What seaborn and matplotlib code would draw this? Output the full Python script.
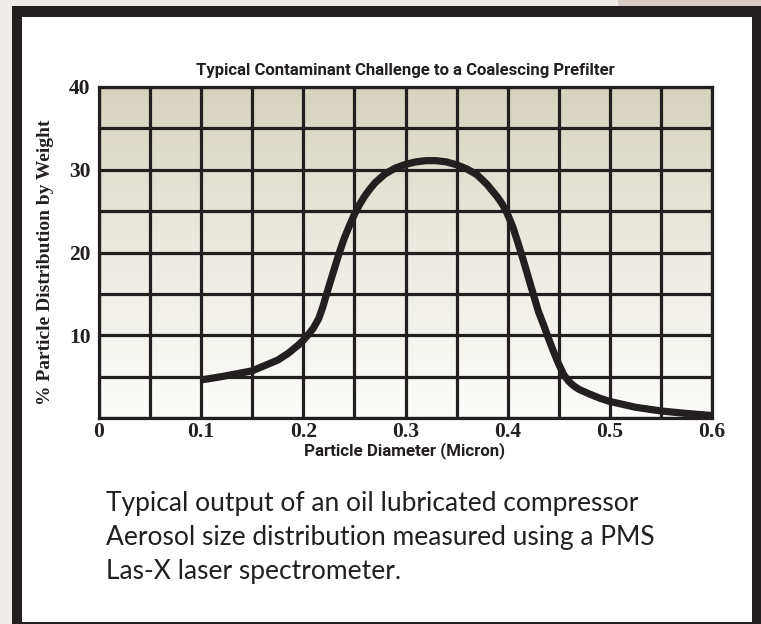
import numpy as np
import matplotlib.pyplot as plt
import seaborn as sns
from matplotlib.colors import LinearSegmentedColormap
from matplotlib.patches import Rectangle
from matplotlib.ticker import MultipleLocator

# curve
diameter = [0.10, 0.12, 0.15, 0.175, 0.185, 0.195, 0.20, 0.205, 0.21, 0.215, 0.219,
            0.2228, 0.23, 0.235, 0.24, 0.245, 0.25, 0.255, 0.26, 0.265, 0.27, 0.28,
            0.29, 0.30, 0.31, 0.32, 0.33, 0.34, 0.35, 0.36, 0.37, 0.38, 0.39, 0.395,
            0.40, 0.405, 0.41, 0.415, 0.42, 0.425, 0.43, 0.435, 0.44, 0.445, 0.45,
            0.455, 0.46, 0.465, 0.47, 0.48, 0.49, 0.50, 0.525, 0.55, 0.575, 0.60]
weight_pct = [4.6, 5.0, 5.7, 7.0, 7.8, 8.8, 9.4, 10.1, 10.9, 12.0, 13.4,
              15.0, 17.9, 19.9, 21.7, 23.2, 24.6, 25.8, 26.8, 27.65, 28.4, 29.5,
              30.2, 30.65, 30.95, 31.1, 31.1, 30.95, 30.6, 30.1, 29.4, 28.2, 26.7, 25.8,
              24.6, 23.1, 21.2, 19.2, 17.1, 15.0, 12.9, 11.3, 9.6, 8.0, 6.5,
              5.2, 4.4, 3.85, 3.45, 2.9, 2.4, 2.0, 1.3, 0.85, 0.55, 0.3]

x_ticks = [0, 0.1, 0.2, 0.3, 0.4, 0.5, 0.6]
x_tick_labels = ["0", "0.1", "0.2", "0.3", "0.4", "0.5", "0.6"]
y_ticks = [10, 20, 30, 40]
y_tick_labels = ["10", "20", "30", "40"]

title = "Typical Contaminant Challenge to a Coalescing Prefilter"
x_label = "Particle Diameter (Micron)"
y_label = "% Particle Distribution by Weight"
caption = ["Typical output of an oil lubricated compressor",
           "Aerosol size distribution measured using a PMS",
           "Las-X laser spectrometer."]

ink = "#231f20"
sns.set_theme(style="white")
plt.rcParams["font.family"] = ["DejaVu Sans"]

W, H = 761, 624
fig = plt.figure(figsize=(W / 100, H / 100), dpi=100)
fig.patch.set_facecolor("#efebe8")


def box(x0, y0, x1, y1, color):
    fig.add_artist(Rectangle((x0 / W, 1 - y1 / H), (x1 - x0) / W, (y1 - y0) / H,
                             transform=fig.transFigure, facecolor=color,
                             edgecolor="none", zorder=-2))


box(618, 0, 761, 6, "#d6cac6")
box(12, 6, 761, 624, ink)
box(22, 17, 752, 622, "white")

ax = fig.add_axes([99 / W, 1 - 418 / H, 613 / W, 331 / H])

# beige-to-white background gradient
cmap = LinearSegmentedColormap.from_list("bg", ["#fcfcfa", "#ecebe2", "#d7d3c0"])
ax.imshow(np.linspace(0, 1, 256).reshape(-1, 1), extent=[0, 0.6, 0, 40],
          origin="lower", aspect="auto", cmap=cmap, zorder=0)

sns.lineplot(x=diameter, y=weight_pct, ax=ax, color=ink, linewidth=5.2,
             solid_capstyle="butt", solid_joinstyle="round", sort=True)

ax.set_xlim(0, 0.6)
ax.set_ylim(0, 40)
ax.set_xticks(x_ticks, x_tick_labels)
ax.set_yticks(y_ticks, y_tick_labels)
ax.xaxis.set_minor_locator(MultipleLocator(0.05))
ax.yaxis.set_minor_locator(MultipleLocator(5))
ax.set_axisbelow(True)
ax.grid(which="both", color=ink, linewidth=2.3)
ax.tick_params(which="both", length=0)
ax.tick_params(axis="x", pad=3)
ax.tick_params(axis="y", pad=6)
for lab in ax.get_xticklabels() + ax.get_yticklabels():
    lab.set_fontfamily(["Liberation Serif", "DejaVu Serif"])
    lab.set_fontweight("bold")
    lab.set_fontsize(15.5)
    lab.set_color(ink)
for sp in ax.spines.values():
    sp.set_visible(True)
    sp.set_color(ink)
    sp.set_linewidth(2.3)

sans = ["Roboto", "DejaVu Sans"]
fig.text(405 / W, 1 - 70 / H, title, ha="center", va="center",
         family=sans, weight="bold", fontsize=12, color=ink)
fig.text(405 / W, 1 - 451 / H, x_label, ha="center", va="center",
         family=sans, weight="bold", fontsize=12.2, color=ink)
fig.text(46 / W, 1 - 262 / H, y_label, ha="center", va="center", rotation=90,
         family=["Liberation Serif", "DejaVu Serif"], weight="bold", fontsize=14, color=ink)

for i, line in enumerate(caption):
    fig.text(106 / W, 1 - (503 + 34 * i) / H, line, ha="left", va="center",
             family=["Lato", "DejaVu Sans"], fontsize=19, color=ink)

fig.savefig("out.png", dpi=100, facecolor=fig.get_facecolor())
